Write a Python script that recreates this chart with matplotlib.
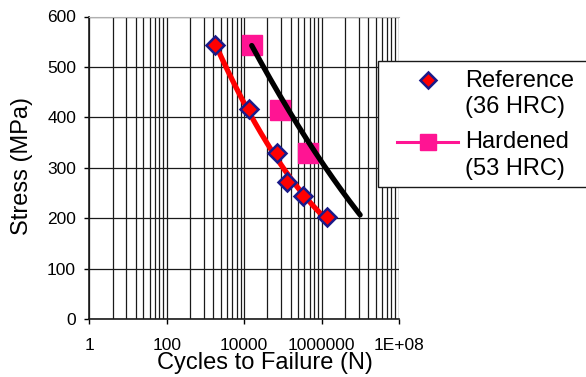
import numpy as np
import matplotlib
matplotlib.use("Agg")
import matplotlib.pyplot as plt
from matplotlib.lines import Line2D
from matplotlib.patches import Rectangle

plt.rcParams['font.family'] = ['Liberation Sans', 'DejaVu Sans']

# ---- data ----
ref_cycles = [1770, 13600, 69600, 131000, 339000, 1360000]
ref_stress = [543, 416, 330, 272, 243, 202]

hard_cycles = [16000, 84700, 435000]
hard_stress = [543, 415, 330]

# black trend curve (hardened)
hard_trend_cycles = [15700, 131000, 721000, 9900000]
hard_trend_stress = [543, 416, 330, 206]

x_tick_values = [1, 100, 10000, 1000000, 100000000]
x_tick_labels = ["1", "100", "10000", "1000000", "1E+08"]
y_tick_values = [0, 100, 200, 300, 400, 500, 600]

legend_lines = [["Reference", "(36 HRC)"], ["Hardened", "(53 HRC)"]]

RED = '#ff0000'
NAVY = '#1a1a8a'
PINK = '#ff1493'

# ---- figure ----
W, H = 586, 377
fig = plt.figure(figsize=(W / 100, H / 100), dpi=100)
x0, x1, yb, yt = 89.3, 399.0, 319.0, 16.5
ax = fig.add_axes([x0 / W, 1 - yb / H, (x1 - x0) / W, (yb - yt) / H])
ax.set_xscale('log')
ax.set_xlim(1, 1e8)
ax.set_ylim(0, 600)

# grid (Excel log base 100 style minor lines)
minor_pos = [k ** 2 * 100 ** n for n in range(4) for k in range(2, 10)]
ax.set_xticks(x_tick_values)
ax.set_xticklabels(x_tick_labels)
ax.set_xticks(minor_pos, minor=True)
ax.set_xticklabels([], minor=True)
ax.set_yticks(y_tick_values)
ax.tick_params(axis='x', which='minor', length=0)
ax.tick_params(axis='x', which='major', length=3.5, width=1, pad=10, labelsize=12.5, direction='out')
ax.tick_params(axis='y', which='major', length=3.5, width=1, pad=6, labelsize=12.5, direction='out')
ax.grid(True, which='both', axis='x', color='#1a1a1a', lw=0.9)
ax.grid(True, which='major', axis='y', color='#1a1a1a', lw=0.9)
ax.set_axisbelow(True)
for s in ['left', 'bottom']:
    ax.spines[s].set_color('#1a1a1a')
    ax.spines[s].set_linewidth(1.2)
ax.spines['right'].set_visible(False)
ax.spines['top'].set_color('#b0b0b0')
ax.spines['top'].set_linewidth(0.8)

# trend curves
lr = np.log10(ref_cycles)
cr = np.polyfit(lr, ref_stress, 2)
xr = np.linspace(lr.min(), lr.max(), 200)
ax.plot(10 ** xr, np.polyval(cr, xr), color=RED, lw=3.8, zorder=3,
        solid_capstyle='round')

lh = np.log10(hard_trend_cycles)
ch = np.polyfit(lh, hard_trend_stress, 2)
xh = np.linspace(lh.min(), lh.max(), 200)
ax.plot(10 ** xh, np.polyval(ch, xh), color='#000000', lw=3.8, zorder=3,
        solid_capstyle='round')

# markers
ax.plot(hard_cycles, hard_stress, ls='none', marker='s', ms=14.5,
        mfc=PINK, mec=PINK, zorder=2.5)
ax.plot(ref_cycles, ref_stress, ls='none', marker='D', ms=9.5,
        mfc=RED, mec=NAVY, mew=1.8, zorder=4)

# axis labels
fig.text(265 / W, 1 - 369 / H, "Cycles to Failure (N)", fontsize=17,
         ha='center', va='baseline')
fig.text(22 / W, 1 - 166 / H, "Stress (MPa)", fontsize=17, rotation=90,
         ha='center', va='center')

# legend (drawn in figure pixel positions)
def fx(px):
    return px / W


def fy(py):
    return 1 - py / H


frame = Rectangle((fx(378), fy(187)), fx(600) - fx(378), fy(61) - fy(187),
                  transform=fig.transFigure, facecolor='white',
                  edgecolor='#1a1a1a', lw=1.0, zorder=10, clip_on=False)
fig.patches.append(frame)

fig.lines.append(Line2D([fx(428)], [fy(80)], transform=fig.transFigure,
                        ls='none', marker='D', ms=8.5, mfc=RED, mec=NAVY,
                        mew=1.8, zorder=11))
fig.lines.append(Line2D([fx(397), fx(458)], [fy(142), fy(142)],
                        transform=fig.transFigure, color=PINK, lw=2.2,
                        zorder=11))
fig.lines.append(Line2D([fx(428)], [fy(142)], transform=fig.transFigure,
                        ls='none', marker='s', ms=12, mfc=PINK, mec=PINK,
                        zorder=12))

baselines = [[86.7, 113.3], [148.3, 175.0]]
for lines, bls in zip(legend_lines, baselines):
    for txt, bl in zip(lines, bls):
        fig.text(fx(465), fy(bl), txt, fontsize=17, ha='left',
                 va='baseline', zorder=12)

fig.savefig("out.png", dpi=100)
